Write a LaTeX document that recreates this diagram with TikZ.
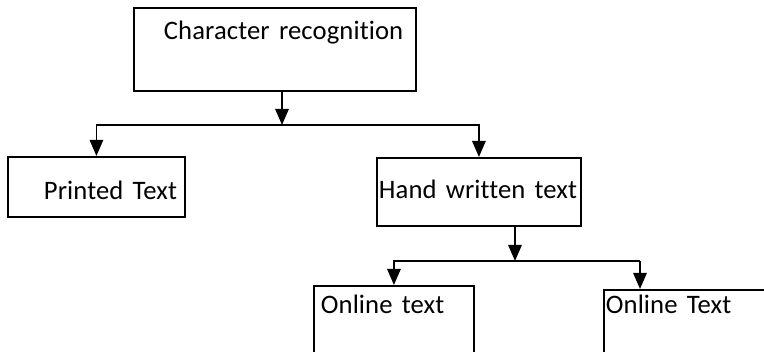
\documentclass[tikz,border=0pt]{standalone}
\usepackage{fontspec}
\setmainfont{Carlito}[Ligatures=NoCommon,WordSpace=1.5,LetterSpace=0.4]
\usetikzlibrary{arrows.meta,calc,positioning}
\tikzset{
  box/.style={draw,rectangle,inner sep=0pt,anchor=north west},
  lbl/.style={font=\fontsize{20}{24}\selectfont,inner sep=0pt,anchor=base west},
  arr/.style={-{Triangle[length=12pt,width=10pt]}},
}
\begin{document}
\begin{tikzpicture}[x=0.75pt,y=-0.75pt,line width=1.4pt]
\clip (0,0) rectangle (764,352);
% boxes
\node[box,minimum width=211.5pt,minimum height=62.25pt] (cr) at (133,7) {};
\node[box,minimum width=132.75pt,minimum height=45pt] (pt) at (7,156) {};
\node[box,minimum width=153pt,minimum height=51pt] (hw) at (376,157) {};
\node[box,minimum width=120pt,minimum height=75pt] (ol) at (313,285) {};
\node[box,minimum width=127.5pt,minimum height=75pt] (oT) at (603,289) {};
% labels
\node[lbl] (crt) at (163,40) {Character recognition};
\node[lbl] (ptt) at (43,200) {Printed Text};
\node[lbl] (hwt) at (378,199) {Hand written text};
\node[lbl] (olt) at (320,314) {Online text};
\node[lbl] (oTt) at (605,314) {Online Text};
% connectors
\coordinate (j1) at (282,125);
\coordinate (j2) at (515,261);
\coordinate (j3) at (640,261);
\draw[arr] (j1 |- cr.south) -- (j1);
\draw[arr] (j1) -| (pt.north);
\draw[arr] (j1) -| (hw.north);
\draw[arr] (j2 |- hw.south) -- (j2);
\draw[arr] (j2) -| (ol.north);
\draw (j2) -- (j3);
\draw[arr] (j3) -- (j3 |- oT.north);
\end{tikzpicture}
\end{document}
